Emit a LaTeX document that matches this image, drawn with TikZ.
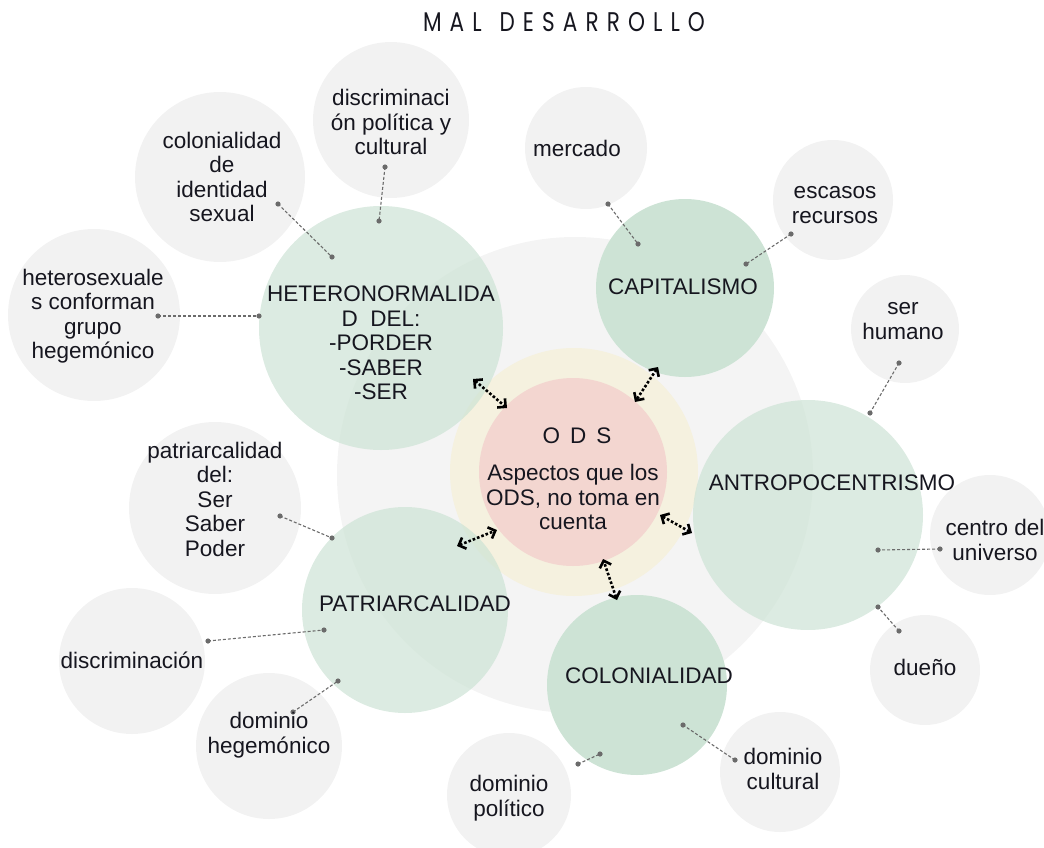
\documentclass[tikz,border=0pt]{standalone}
\usepackage{fontspec}
\setmainfont{Liberation Sans}
\newfontfamily\titlefont[LetterSpace=30,FakeStretch=0.8]{Poppins}
\usetikzlibrary{arrows.meta}

\definecolor{bigbg}{HTML}{F4F4F4}
\definecolor{satgray}{HTML}{F2F2F2}
\definecolor{odsyellow}{HTML}{F5F1DF}
\definecolor{odspink}{HTML}{F3D6D0}
\definecolor{maingreen}{HTML}{CDE3D5}
\definecolor{linkgray}{HTML}{6B6B6B}
\definecolor{ink}{HTML}{16161F}

\tikzset{
  bubble/.style={circle, inner sep=0pt, minimum size=#1},
  satbub/.style={bubble=#1, fill=satgray},
  mainbub/.style={bubble=#1, fill=maingreen, fill opacity=0.7},
  txt/.style={align=center, text=ink, inner sep=0pt, font=\fontsize{22.5}{24.5}\selectfont},
  link/.style={draw=linkgray, line width=1.1pt, densely dashed},
  odsarrow/.style={line width=2.6pt, dotted, {Straight Barb[length=6pt,width=12pt]}-{Straight Barb[length=6pt,width=12pt]}},
}

\begin{document}
\begin{tikzpicture}[x=1pt, y=-1pt]
        \useasboundingbox (0,0) rectangle (1044,848);

        % fondo y centro
        \node[bubble=476, fill=bigbg] (bg) at (575,475) {};
        \node[bubble=248, fill=odsyellow] (odsring) at (574,472) {};
        \node[bubble=188, fill=odspink] (ods) at (573,472) {};

        % ejes principales
        \node[mainbub=244] (het) at (381,328) {};
        \node[mainbub=178, fill opacity=1] (cap) at (685,288) {};
        \node[mainbub=230] (antro) at (808,515) {};
        \node[mainbub=180, fill opacity=1] (colon) at (637,685) {};
        \node[mainbub=206] (patri) at (405,610) {};

        % satelites
        \node[satbub=156] (polcult) at (391,120) {};
        \node[satbub=170] (colid) at (220,177) {};
        \node[satbub=172] (hetgrp) at (94,315) {};
        \node[satbub=122] (mercado) at (586,148) {};
        \node[satbub=120] (escasos) at (833,200) {};
        \node[satbub=108] (serhum) at (905,329) {};
        \node[satbub=120] (centro) at (990,535) {};
        \node[satbub=110] (dueno) at (925,670) {};
        \node[satbub=120] (domcult) at (780,772) {};
        \node[satbub=124] (dompol) at (509,795) {};
        \node[satbub=146] (domheg) at (269,746) {};
        \node[satbub=146] (discrim) at (132,661) {};
        \node[satbub=172] (patdel) at (215,508) {};

        % extremos de los enlaces
        \coordinate (polcult-a) at (385,167);  \coordinate (polcult-b) at (379,221);
        \coordinate (colid-a) at (278,204);    \coordinate (colid-b) at (332,257);
        \coordinate (hetgrp-a) at (158,316);   \coordinate (hetgrp-b) at (259,316);
        \coordinate (mercado-a) at (608,204);  \coordinate (mercado-b) at (638,244);
        \coordinate (escasos-a) at (791,234);  \coordinate (escasos-b) at (746,264);
        \coordinate (serhum-a) at (899,363);   \coordinate (serhum-b) at (870,413);
        \coordinate (centro-a) at (940,549);   \coordinate (centro-b) at (878,550);
        \coordinate (dueno-a) at (899,631);    \coordinate (dueno-b) at (878,607);
        \coordinate (domcult-a) at (735,760);  \coordinate (domcult-b) at (683,725);
        \coordinate (dompol-a) at (578,764);   \coordinate (dompol-b) at (600,754);
        \coordinate (domheg-a) at (293,712);   \coordinate (domheg-b) at (338,681);
        \coordinate (discrim-a) at (208,641);  \coordinate (discrim-b) at (324,630);
        \coordinate (patdel-a) at (280,516);   \coordinate (patdel-b) at (332,538);

        \foreach \s in {polcult,colid,hetgrp,mercado,escasos,serhum,centro,dueno,domcult,dompol,domheg,discrim,patdel} {
            \draw[link] (\s-a) -- (\s-b);
            \fill[linkgray] (\s-a) circle (2.6) (\s-b) circle (2.6);
        }

        % flechas hacia ODS
        \coordinate (het-o) at (473,379);   \coordinate (het-i) at (507,408);
        \coordinate (cap-o) at (658,367);   \coordinate (cap-i) at (635,402);
        \coordinate (antro-o) at (692,533); \coordinate (antro-i) at (660,515);
        \coordinate (colon-o) at (617,600); \coordinate (colon-i) at (603,559);
        \coordinate (patri-o) at (457,546); \coordinate (patri-i) at (497,530);

        \foreach \m in {het,cap,antro,colon,patri} {
            \draw[odsarrow] (\m-o) -- (\m-i);
        }

        % textos
        \node[txt, font=\titlefont\fontsize{27}{27}\selectfont] (title) at (564,22) {MAL \kern4pt DESARROLLO};
        \node[txt] (ods-t) at (577,436) {O\,\ D\,\ S};
        \node[txt] (ods-d) at (573,497) {Aspectos que los\\ODS, no toma en\\cuenta};
        \node[txt] (het-t) at (381,343) {HETERONORMALIDA\\D\ \ DEL:\\-PORDER\\-SABER\\-SER};
        \node[txt] (cap-t) at (683,287) {CAPITALISMO};
        \node[txt] (antro-t) at (832,483) {ANTROPOCENTRISMO};
        \node[txt] (colon-t) at (649,676) {COLONIALIDAD};
        \node[txt] (patri-t) at (415,604) {PATRIARCALIDAD};

        \node[txt] (polcult-t) at (391,122) {discriminaci\\ón política y\\cultural};
        \node[txt] (colid-t) at (222,177) {colonialidad\\de\\identidad\\sexual};
        \node[txt] (hetgrp-t) at (93,316) {heterosexuale\\s conforman\\grupo\\hegemónico};
        \node[txt] (mercado-t) at (577,148) {mercado};
        \node[txt] (escasos-t) at (835,205) {escasos\\recursos};
        \node[txt] (serhum-t) at (903,321) {ser\\humano};
        \node[txt] (centro-t) at (995,540) {centro del\\universo};
        \node[txt] (dueno-t) at (925,667) {dueño};
        \node[txt] (domcult-t) at (783,769) {dominio\\cultural};
        \node[txt] (dompol-t) at (509,798) {dominio\\político};
        \node[txt] (domheg-t) at (269,735) {dominio\\hegemónico};
        \node[txt] (discrim-t) at (132,660) {discriminación};
        \node[txt] (patdel-t) at (215,499) {patriarcalidad\\del:\\Ser\\Saber\\Poder};
    \end{tikzpicture}
\end{document}
